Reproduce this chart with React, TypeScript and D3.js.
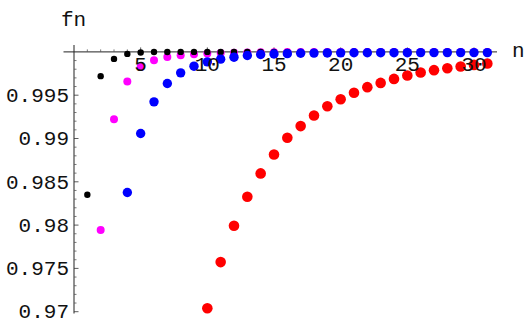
import { useEffect, useRef } from 'react';
import * as d3 from 'd3';

// n values for each series
const blackN = [1, 2, 3, 4, 5, 6, 7, 8, 9, 10, 11, 12, 13, 14, 15, 16, 17, 18, 19, 20, 21, 22, 23, 24, 25, 26, 27, 28, 29, 30, 31];
const blackFn = [0.9835, 0.9972, 0.99919, 0.99977, 0.99993, 0.99998, 0.99999, 1, 1, 1, 1, 1, 1, 1, 1, 1, 1, 1, 1, 1, 1, 1, 1, 1, 1, 1, 1, 1, 1, 1, 1];

const magentaN = [2, 3, 4, 5, 6, 7, 8, 9, 10, 11, 12, 13, 14, 15, 16, 17, 18, 19, 20, 21, 22, 23, 24, 25, 26, 27, 28, 29, 30, 31];
const magentaFn = [0.97942, 0.99223, 0.99658, 0.99827, 0.99904, 0.99942, 0.99962, 0.99974, 0.99982, 0.99987, 0.99991, 0.99994, 0.99996, 0.99997, 0.99998, 0.99998, 0.99999, 0.99999, 1, 1, 1, 1, 1, 1, 1, 1, 1, 1, 1, 1];

const blueN = [4, 5, 6, 7, 8, 9, 10, 11, 12, 13, 14, 15, 16, 17, 18, 19, 20, 21, 22, 23, 24, 25, 26, 27, 28, 29, 30, 31];
const blueFn = [0.98377, 0.99058, 0.99423, 0.99635, 0.99758, 0.99835, 0.99885, 0.99916, 0.99939, 0.99958, 0.9997, 0.99976, 0.9998, 0.99984, 0.99986, 0.99988, 0.99989, 0.9999, 0.9999, 0.99991, 0.99991, 0.99991, 0.99992, 0.99992, 0.99992, 0.99992, 0.99992, 0.99992];

const redN = [10, 11, 12, 13, 14, 15, 16, 17, 18, 19, 20, 21, 22, 23, 24, 25, 26, 27, 28, 29, 30, 31];
const redFn = [0.97039, 0.97573, 0.97992, 0.98327, 0.98597, 0.98816, 0.99008, 0.99143, 0.99266, 0.99373, 0.99454, 0.99529, 0.99593, 0.99642, 0.99688, 0.99728, 0.99762, 0.99789, 0.99812, 0.99832, 0.9985, 0.99866];

const xTicks = [5, 10, 15, 20, 25, 30];
const yTicks = [0.97, 0.975, 0.98, 0.985, 0.99, 0.995];
const yTickLabels = ['0.97', '0.975', '0.98', '0.985', '0.99', '0.995'];

const App = () => {
  const svgRef = useRef<SVGSVGElement>(null);

  useEffect(() => {
    const svg = d3.select(svgRef.current);
    svg.selectAll('*').remove();

    const xScale = d3.scaleLinear().domain([0, 30]).range([74, 474]);
    const yScale = d3.scaleLinear().domain([0.97, 1]).range([311.7, 51.9]);

    const font = '"Liberation Mono", "Courier New", monospace';
    const y0 = yScale(1);
    const x0 = xScale(0);

    // axes lines
    svg.append('line')
      .attr('x1', 63.5).attr('x2', 497)
      .attr('y1', y0).attr('y2', y0)
      .attr('stroke', '#222').attr('stroke-width', 1);
    svg.append('line')
      .attr('x1', x0).attr('x2', x0)
      .attr('y1', 45).attr('y2', 313.5)
      .attr('stroke', '#222').attr('stroke-width', 1);

    // x ticks (pointing up)
    const xMinor = d3.range(1, 32).filter(v => v % 5 !== 0);
    svg.selectAll('.xminor')
      .data(xMinor)
      .enter().append('line')
      .attr('x1', d => xScale(d)).attr('x2', d => xScale(d))
      .attr('y1', y0).attr('y2', y0 - 2.5)
      .attr('stroke', '#555').attr('stroke-width', 0.8);
    svg.selectAll('.xmajor')
      .data(xTicks)
      .enter().append('line')
      .attr('x1', d => xScale(d)).attr('x2', d => xScale(d))
      .attr('y1', y0).attr('y2', y0 - 4.5)
      .attr('stroke', '#333').attr('stroke-width', 0.8);

    // y ticks (pointing right)
    const yMinor = d3.range(0, 31).map(i => 0.97 + i * 0.001).filter((_, i) => i % 5 !== 0);
    svg.selectAll('.yminor')
      .data(yMinor)
      .enter().append('line')
      .attr('x1', x0).attr('x2', x0 + 2.5)
      .attr('y1', d => yScale(d)).attr('y2', d => yScale(d))
      .attr('stroke', '#555').attr('stroke-width', 0.8);
    svg.selectAll('.ymajor')
      .data(yTicks)
      .enter().append('line')
      .attr('x1', x0).attr('x2', x0 + 4.5)
      .attr('y1', d => yScale(d)).attr('y2', d => yScale(d))
      .attr('stroke', '#333').attr('stroke-width', 0.8);

    // series (draw order: magenta, black, blue, red)
    const series = [
      { n: magentaN, v: magentaFn, color: '#ff00ff', r: 4 },
      { n: blackN, v: blackFn, color: '#000000', r: 3.2 },
      { n: blueN, v: blueFn, color: '#0000ff', r: 4.7 },
      { n: redN, v: redFn, color: '#ff0000', r: 5.3 },
    ];

    series.forEach(s => {
      svg.append('g')
        .selectAll('circle')
        .data(s.n.map((n, i) => ({ n, v: s.v[i] })))
        .enter().append('circle')
        .attr('cx', d => xScale(d.n))
        .attr('cy', d => yScale(d.v))
        .attr('r', s.r)
        .attr('fill', s.color);
    });

    // tick labels
    svg.selectAll('.xlabel')
      .data(xTicks)
      .enter().append('text')
      .attr('x', d => xScale(d))
      .attr('y', 71)
      .attr('text-anchor', 'middle')
      .attr('font-family', font)
      .attr('font-size', 21)
      .attr('fill', '#111')
      .text(d => d);

    svg.selectAll('.ylabel')
      .data(yTicks)
      .enter().append('text')
      .attr('x', 69)
      .attr('y', d => yScale(d) + 6.7)
      .attr('text-anchor', 'end')
      .attr('font-family', font)
      .attr('font-size', 21)
      .attr('fill', '#111')
      .text((_, i) => yTickLabels[i]);

    // axis titles
    svg.append('text')
      .attr('x', 61).attr('y', 26)
      .attr('font-family', font)
      .attr('font-size', 21)
      .attr('fill', '#111')
      .text('fn');
    svg.append('text')
      .attr('x', 512).attr('y', 57)
      .attr('font-family', font)
      .attr('font-size', 21)
      .attr('fill', '#111')
      .text('n');
  }, []);

  return (
    <svg
      ref={svgRef}
      width={531}
      height={328}
      style={{ position: 'absolute', left: 0, top: 0, background: '#fff' }}
    />
  );
};

export default App;
